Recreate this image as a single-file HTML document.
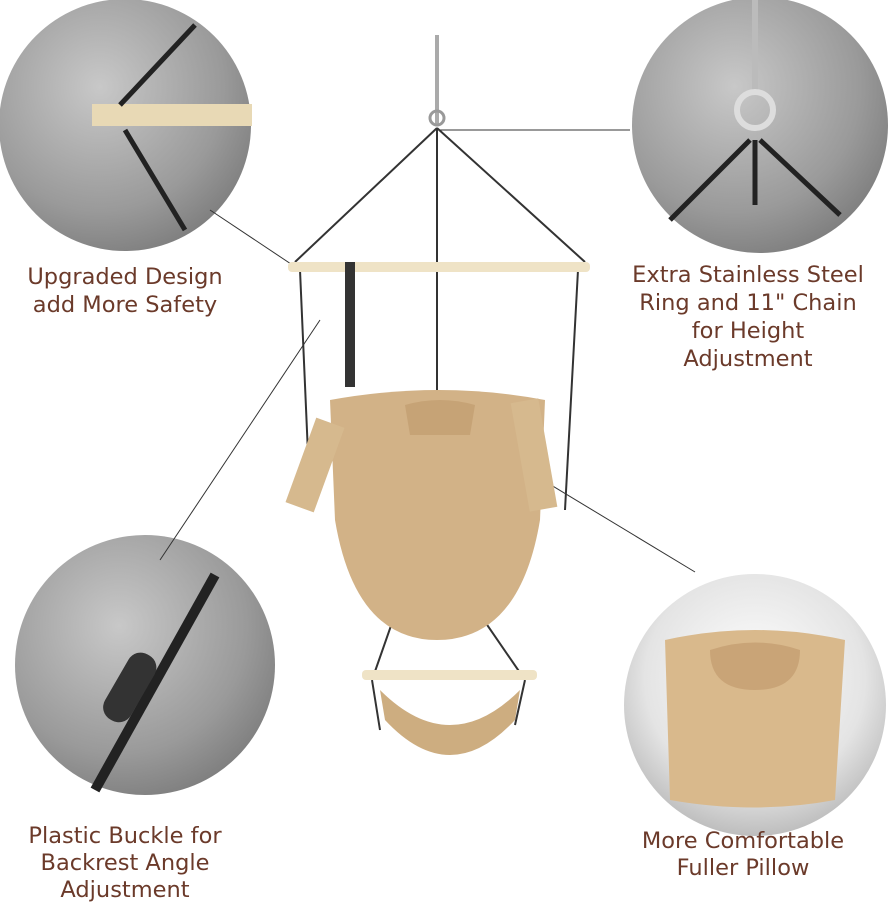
<!DOCTYPE html>
<html><head><meta charset="utf-8"><style>
html,body{margin:0;padding:0;background:#fff;}
.t{position:absolute;font-family:"DejaVu Sans","Liberation Sans",sans-serif;font-size:22.5px;color:#6b3a2a;text-align:center;line-height:28px;}
</style></head><body>
<div style="position:relative;width:889px;height:909px;overflow:hidden;">
<svg width="889" height="909" style="position:absolute;left:0;top:0">
<defs>
<radialGradient id="g" cx="40%" cy="35%" r="70%"><stop offset="0" stop-color="#c8c8c8"/><stop offset="0.7" stop-color="#9a9a9a"/><stop offset="1" stop-color="#7d7d7d"/></radialGradient>
<radialGradient id="gb" cx="50%" cy="40%" r="70%"><stop offset="0" stop-color="#ffffff"/><stop offset="0.6" stop-color="#e4e4e4"/><stop offset="1" stop-color="#a8a8a8"/></radialGradient>
</defs>
<circle cx="125" cy="125" r="126" fill="url(#g)"/>
<rect x="92" y="104" width="160" height="22" fill="#e8d9b5"/>
<path d="M195 25 L120 105 M125 130 L185 230" stroke="#222" stroke-width="5"/>
<circle cx="760" cy="125" r="128" fill="url(#g)"/>
<path d="M755 0 V95" stroke="#bbb" stroke-width="6"/>
<circle cx="755" cy="110" r="18" fill="none" stroke="#ddd" stroke-width="6"/>
<path d="M750 140 L670 220 M760 140 L840 215 M755 140 V205" stroke="#222" stroke-width="5"/>
<circle cx="145" cy="665" r="130" fill="url(#g)"/>
<path d="M215 575 L95 790" stroke="#222" stroke-width="10"/>
<rect x="115" y="650" width="30" height="75" rx="14" fill="#333" transform="rotate(30 130 687)"/>
<circle cx="755" cy="705" r="131" fill="url(#gb)"/>
<path d="M665 640 Q755 620 845 640 L835 800 Q755 815 670 800 Z" fill="#d9b98c"/>
<path d="M710 650 Q755 635 800 650 Q800 690 755 690 Q710 690 710 650Z" fill="#c9a477"/>
<g stroke="#333" stroke-width="1">
<line x1="210" y1="210" x2="300" y2="270"/>
<line x1="440" y1="130" x2="630" y2="130"/>
<line x1="160" y1="560" x2="320" y2="320"/>
<line x1="460" y1="430" x2="695" y2="572"/>
</g>
<path d="M437 35 V125" stroke="#aaa" stroke-width="4"/>
<circle cx="437" cy="118" r="7" fill="none" stroke="#999" stroke-width="3"/>
<g stroke="#333" stroke-width="2" fill="none">
<path d="M437 128 L295 262 M437 128 L585 262 M437 128 V615 M300 270 L310 500 M578 270 L565 510 M400 600 L372 680 M470 600 L525 680 M372 680 L380 730 M525 680 L515 725"/>
</g>
<rect x="288" y="262" width="302" height="10" rx="4" fill="#efe3c6"/>
<rect x="345" y="262" width="10" height="125" fill="#333"/>
<path d="M330 400 Q440 380 545 400 L540 520 Q520 640 437 640 Q355 640 335 520 Z" fill="#d2b287"/>
<path d="M405 405 Q440 395 475 405 L470 435 L410 435 Z" fill="#c6a376"/>
<rect x="300" y="420" width="30" height="90" fill="#d6b98e" transform="rotate(20 315 465)"/>
<rect x="520" y="400" width="28" height="110" fill="#d6b98e" transform="rotate(-10 534 455)"/>
<rect x="362" y="670" width="175" height="10" rx="4" fill="#efe3c6"/>
<path d="M380 690 Q450 760 520 690 L515 720 Q450 790 385 720 Z" fill="#cdad80"/>
</svg>
<div class="t" style="left:-5px;width:260px;top:263px;">Upgraded Design<br>add More Safety</div>
<div class="t" style="left:608px;width:280px;top:261px;">Extra Stainless Steel<br>Ring and 11" Chain<br>for Height<br>Adjustment</div>
<div class="t" style="left:-5px;width:260px;top:823px;line-height:27px;">Plastic Buckle for<br>Backrest Angle<br>Adjustment</div>
<div class="t" style="left:603px;width:280px;top:828px;line-height:27px;">More Comfortable<br>Fuller Pillow</div>
</div>
</body></html>
